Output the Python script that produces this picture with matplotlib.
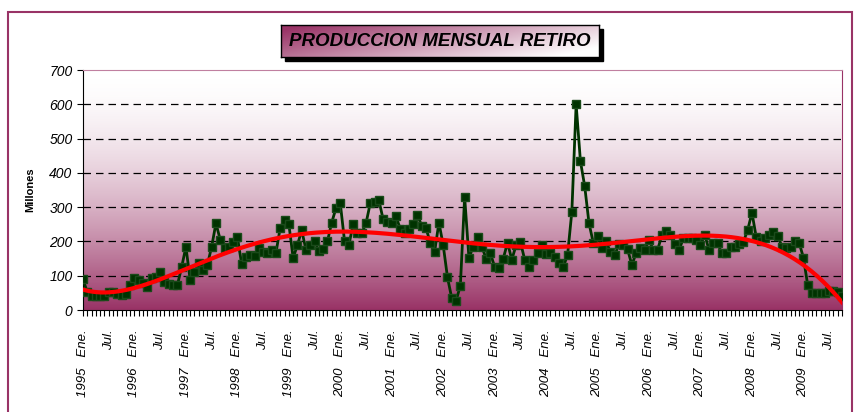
import numpy as np
import matplotlib
matplotlib.use('Agg')
import matplotlib.pyplot as plt
from matplotlib.colors import LinearSegmentedColormap
from matplotlib.patches import Rectangle

plt.rcParams['font.family'] = ['Liberation Sans', 'DejaVu Sans']

# monthly production, Ene 1995 .. Oct 2009 (millones)
start_year = 1995
produccion = [
    89, 52, 42, 40, 40, 42, 52, 52, 46, 44, 48, 72,          # 1995
    94, 88, 80, 67, 92, 95, 111, 82, 75, 72, 72, 125,        # 1996
    184, 87, 111, 137, 118, 132, 184, 253, 205, 181, 185, 198,  # 1997
    213, 134, 155, 160, 157, 180, 170, 165, 175, 167, 240, 262,  # 1998
    251, 152, 189, 233, 175, 189, 200, 173, 177, 200, 255, 297,  # 1999
    311, 200, 189, 251, 225, 224, 253, 312, 315, 320, 264, 258,  # 2000
    253, 273, 236, 224, 235, 250, 277, 245, 238, 196, 170, 255,  # 2001
    189, 95, 34, 27, 71, 330, 152, 185, 212, 185, 150, 165,      # 2002
    126, 122, 150, 196, 147, 189, 199, 147, 126, 145, 165, 189,  # 2003
    163, 165, 155, 136, 126, 160, 287, 600, 434, 361, 253, 196,  # 2004
    216, 182, 200, 168, 160, 192, 189, 177, 131, 167, 180, 175,  # 2005
    204, 175, 175, 219, 231, 219, 192, 175, 209, 209, 209, 205,  # 2006
    190, 219, 175, 194, 194, 165, 165, 183, 183, 192, 199, 233,  # 2007
    284, 212, 202, 210, 219, 228, 216, 185, 181, 185, 202, 196,  # 2008
    153, 73, 51, 49, 50, 50, 56, 54, 53, 40,                     # 2009
]
y_ticks = [0, 100, 200, 300, 400, 500, 600, 700]
titulo = 'PRODUCCION MENSUAL RETIRO'
eje_y = 'Millones'

maroon = '#993366'
n = len(produccion)
x = np.arange(n)

labels = []
for i in range(n):
    if i % 12 == 0:
        labels.append(f'{start_year + i // 12}   Ene.')
    elif i % 12 == 6:
        labels.append('Jul.')
    else:
        labels.append('')

fig = plt.figure(figsize=(8.56, 4.12), dpi=100)

# outer frame of the chart
fig.patches.append(Rectangle((8 / 856, -0.1), 844 / 856, 1.1 - 12 / 412,
                             transform=fig.transFigure, fill=False,
                             edgecolor=maroon, lw=1.5, zorder=0))

ax = fig.add_axes([83 / 856, 1 - 310 / 412, 759 / 856, 240 / 412])

# gradient plot area: white at top, plum at bottom
cmap = LinearSegmentedColormap.from_list('plum', ['white', maroon])
t = np.linspace(0, 1, 256)[:, None]
grad = (1 - t) ** 1.7
ax.imshow(grad, extent=[0, n - 1, 0, 700], aspect='auto', cmap=cmap,
          vmin=0, vmax=1, zorder=0, origin='lower')

ax.plot(x, produccion, color='#003300', lw=2, marker='s', markersize=5.5,
        markerfacecolor='#003300', markeredgecolor='#1a4a1a', zorder=3)

# polynomial trend (order 6), as the spreadsheet trendline
xf = np.linspace(0, n - 1, 400)
trend = np.polynomial.Polynomial.fit(x, produccion, 6)
ax.plot(xf, trend(xf), color='#ff0000', lw=3, zorder=4)

ax.set_xlim(0, n - 1)
ax.set_ylim(0, 700)
ax.set_yticks(y_ticks)
ax.set_yticklabels([str(v) for v in y_ticks], fontsize=10, style='italic')
ax.set_xticks(x)
ax.set_xticklabels(labels, rotation=90, fontsize=9.5, style='italic',
                   ha='center', va='top')
ax.tick_params(axis='x', length=4, width=0.8, pad=10)
ax.tick_params(axis='y', length=4, width=0.8)

for v in y_ticks[1:-1]:
    ax.axhline(v, color='black', lw=0.9, ls=(0, (6, 4)), zorder=1)
ax.axhline(700, color=maroon, lw=1.2, ls=(0, (6, 4)), zorder=1)

ax.spines['left'].set_color('black')
ax.spines['bottom'].set_color('black')
ax.spines['top'].set_color('#c080a0')
ax.spines['right'].set_color(maroon)

fig.text(30 / 856, 1 - 190 / 412, eje_y, rotation=90, fontsize=8,
         fontweight='bold', ha='center', va='center')

# title box with shadow
bx, by, bw, bh = 281 / 856, 1 - 57 / 412, 318 / 856, 32 / 412
fig.patches.append(Rectangle((bx + 4 / 856, by - 4 / 412), bw, bh,
                             transform=fig.transFigure, color='black', zorder=1))
tax = fig.add_axes([bx, by, bw, bh])
tax.set_zorder(2)
gx, gy = np.meshgrid(np.linspace(0, 1, 200), np.linspace(0, 1, 40))
tax.imshow(np.clip(1.05 - (0.8 * gx + 0.35 * gy), 0, 1), cmap=cmap, aspect='auto',
           extent=[0, 1, 0, 1], vmin=0, vmax=1)
tax.set_xticks([])
tax.set_yticks([])
for s in tax.spines.values():
    s.set_color('black')
    s.set_linewidth(1)
tax.text(0.5, 0.5, titulo, ha='center', va='center', fontsize=13.5,
         fontweight='bold', style='italic', transform=tax.transAxes)

fig.savefig('out.png', dpi=100)
